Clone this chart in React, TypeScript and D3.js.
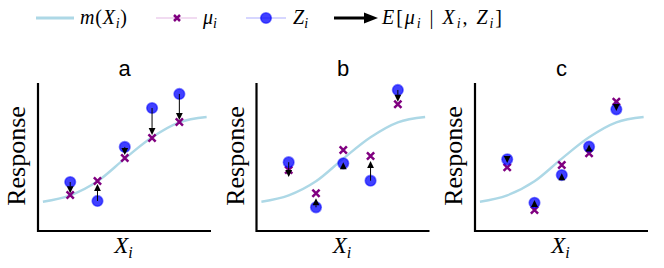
import * as React from "react";
import * as d3 from "d3";

// prior mean curve m(X), read at X = 0..6
const curveX = [0, 1, 2, 3, 4, 5, 6];
const curveY = [0.198, 0.241, 0.336, 0.489, 0.633, 0.734, 0.770];

const pointX = [1, 2, 3, 4, 5];
const panelTitles = ["a", "b", "c"];

// true means mu_i, observations Z_i and posterior means E[mu_i | X_i, Z_i]
const muA = [0.243, 0.338, 0.493, 0.628, 0.736];
const zA = [0.331, 0.203, 0.568, 0.831, 0.926];
const eA = [0.255, 0.318, 0.514, 0.649, 0.750];

const muB = [0.412, 0.255, 0.547, 0.507, 0.856];
const zB = [0.465, 0.160, 0.457, 0.340, 0.953];
const eB = [0.365, 0.221, 0.465, 0.473, 0.874];

const muC = [0.430, 0.142, 0.446, 0.525, 0.874];
const zC = [0.484, 0.191, 0.378, 0.570, 0.822];
const eC = [0.460, 0.210, 0.390, 0.585, 0.810];

const panels = [
    {mu: muA, z: zA, e: eA},
    {mu: muB, z: zB, e: eB},
    {mu: muC, z: zC, e: eC},
];

const panelLeft = [38, 256.5, 475];
const plotW = 173;
const plotTop = 83;
const plotBottom = 231;

const BLUE = "#0000ff";
const PURPLE = "#800080";
const CURVE = "#add8e6";
const serif = "'Liberation Serif', 'DejaVu Serif', serif";
const sans = "'Liberation Sans', Arial, sans-serif";

function Cross({cx, cy, s = 3.6}) {
    return <path d={`M${cx - s},${cy - s}L${cx + s},${cy + s}M${cx - s},${cy + s}L${cx + s},${cy - s}`}
                 stroke={PURPLE} strokeWidth={2.5} fill="none"/>;
}

function Dot({cx, cy}) {
    return <circle cx={cx} cy={cy} r={5.3} fill={BLUE} fillOpacity={0.75}
                   stroke={BLUE} strokeOpacity={0.5} strokeWidth={1.6}/>;
}

function Arrow({x, y0, y1, headLen = 7, headW = 3.4, width = 1}) {
    const dir = y1 >= y0 ? 1 : -1;
    const base = y1 - dir * headLen;
    const shaft = Math.abs(y1 - y0) > headLen;
    return <g>
        {shaft && <line x1={x} x2={x} y1={y0} y2={base} stroke="black" strokeWidth={width}/>}
        <path d={`M${x},${y1}L${x - headW},${base}L${x + headW},${base}Z`} fill="black"/>
    </g>;
}

function Panel({index}) {
    const left = panelLeft[index];
    const {mu, z, e} = panels[index];
    const x = d3.scaleLinear().domain([-0.18, 6.16]).range([left, left + plotW]);
    const y = d3.scaleLinear().domain([0, 1]).range([plotBottom, plotTop]);
    const line = d3.line<number>()
        .x((d, i) => x(curveX[i]))
        .y(d => y(d))
        .curve(d3.curveMonotoneX);
    const cxm = left + plotW / 2;

    return <g>
        <text x={cxm} y={76} textAnchor="middle" fontFamily={sans} fontSize={22}>{panelTitles[index]}</text>
        <path d={line(curveY)} fill="none" stroke={CURVE} strokeWidth={2.4}/>
        {pointX.map((px, i) => <Cross key={"m" + i} cx={x(px)} cy={y(mu[i])}/>)}
        {pointX.map((px, i) => <Dot key={"z" + i} cx={x(px)} cy={y(z[i])}/>)}
        {pointX.map((px, i) => <Arrow key={"a" + i} x={x(px)} y0={y(z[i])} y1={y(e[i])}/>)}
        <path d={`M${left},${plotTop}V${plotBottom}H${left + plotW}`} fill="none" stroke="black" strokeWidth={2.2}/>
        <text x={cxm - 1} y={253} textAnchor="middle" fontFamily={serif} fontSize={23}>
            <tspan fontStyle="italic">X</tspan>
            <tspan fontStyle="italic" fontSize={16} dy={5}>i</tspan>
        </text>
        <text transform={`translate(${left - 13},${(plotTop + plotBottom) / 2 - 1}) rotate(-90)`}
              textAnchor="middle" fontFamily={serif} fontSize={26}>Response</text>
    </g>;
}

function Legend() {
    const ly = 18;
    const fs = 20;
    const sub = 14;
    return <g fontFamily={serif} fontSize={fs}>
        <line x1={36} x2={74} y1={ly} y2={ly} stroke={CURVE} strokeWidth={3}/>
        <text x={80} y={ly + 6} textLength={47} lengthAdjust="spacing">
            <tspan fontStyle="italic">m</tspan>(<tspan fontStyle="italic">X</tspan>
            <tspan fontStyle="italic" fontSize={sub} dy={4}>i</tspan>
            <tspan dy={-4}>)</tspan>
        </text>

        <line x1={156} x2={197} y1={ly} y2={ly} stroke="#eccfec" strokeWidth={1.5}/>
        <Cross cx={177} cy={ly} s={3}/>
        <text x={203} y={ly + 6}>
            <tspan fontStyle="italic">μ</tspan>
            <tspan fontStyle="italic" fontSize={sub} dy={4}>i</tspan>
        </text>

        <line x1={246} x2={286} y1={ly} y2={ly} stroke="#c8c8ff" strokeWidth={1.5}/>
        <Dot cx={266} cy={ly}/>
        <text x={293} y={ly + 6}>
            <tspan fontStyle="italic">Z</tspan>
            <tspan fontStyle="italic" fontSize={sub} dy={4}>i</tspan>
        </text>

        <line x1={334} x2={366} y1={ly} y2={ly} stroke="black" strokeWidth={3}/>
        <path d={`M378,${ly}L364,${ly - 5.5}L364,${ly + 5.5}Z`} fill="black"/>
        <text x={382} y={ly + 6} textLength={120} lengthAdjust="spacing">
            <tspan fontStyle="italic">E</tspan>[<tspan fontStyle="italic">μ</tspan>
            <tspan fontStyle="italic" fontSize={sub} dy={4}>i</tspan>
            <tspan dy={-4}> | </tspan><tspan fontStyle="italic">X</tspan>
            <tspan fontStyle="italic" fontSize={sub} dy={4}>i</tspan>
            <tspan dy={-4}>, </tspan><tspan fontStyle="italic">Z</tspan>
            <tspan fontStyle="italic" fontSize={sub} dy={4}>i</tspan>
            <tspan dy={-4}>]</tspan>
        </text>
    </g>;
}

export default function App() {
    return <svg width={664} height={268} style={{position: "absolute", left: 0, top: 0, background: "white"}}>
        <Legend/>
        {panels.map((p, i) => <Panel key={i} index={i}/>)}
    </svg>;
}
